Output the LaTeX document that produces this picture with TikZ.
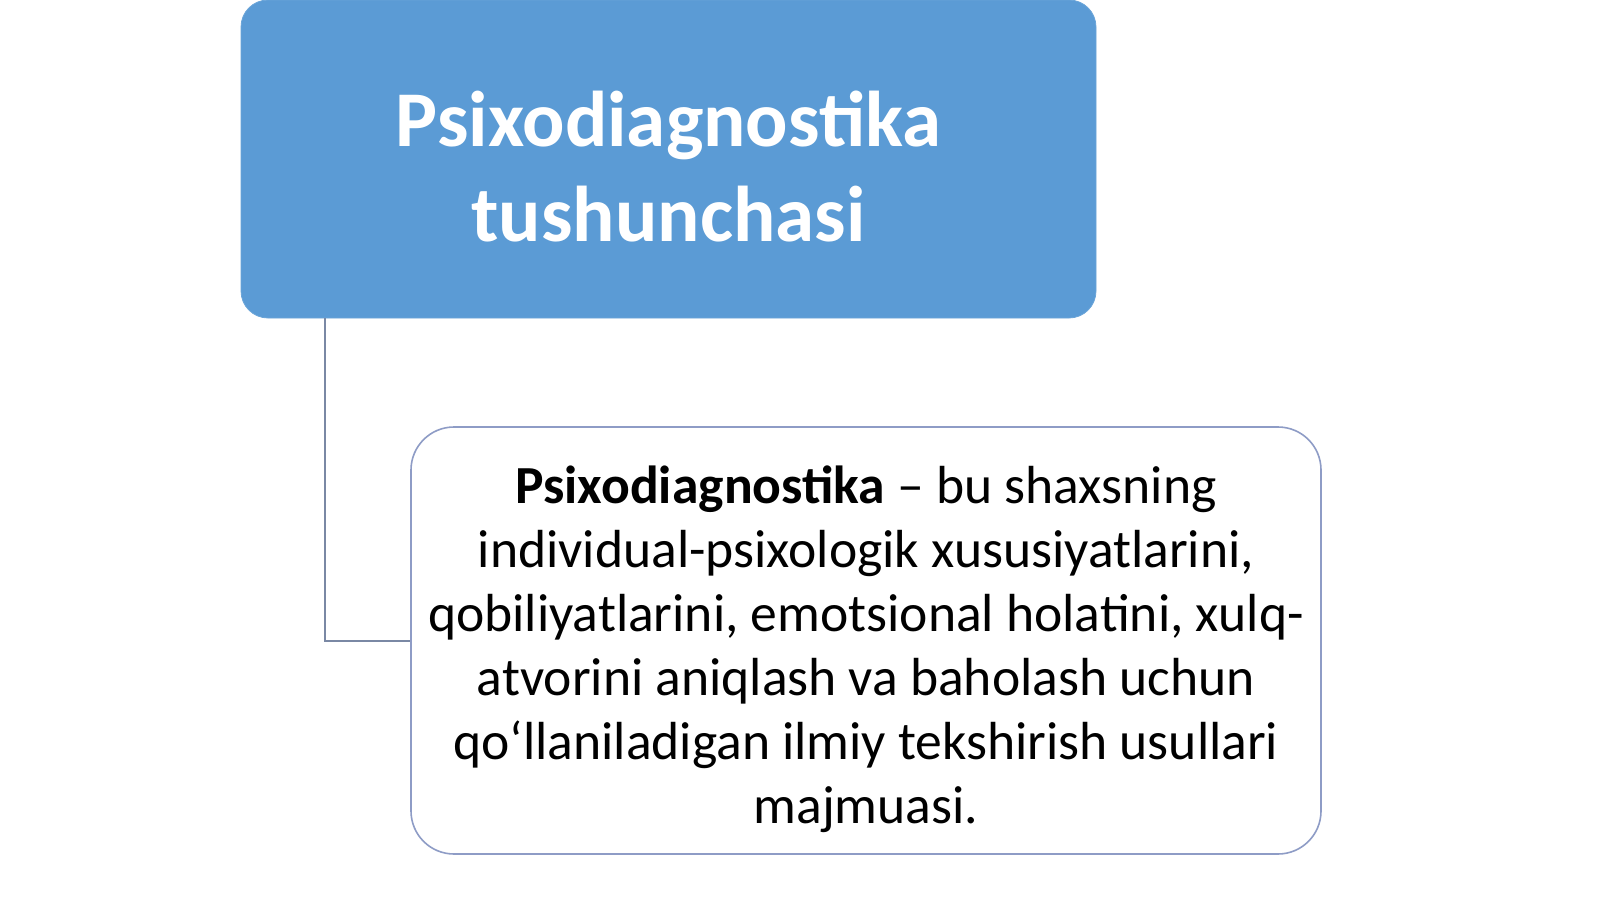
\documentclass[tikz,border=0pt]{standalone}
\usepackage{fontspec}
\setmainfont{Carlito}
\usetikzlibrary{positioning}
\definecolor{titleblue}{HTML}{5B9BD5}
\definecolor{boxline}{HTML}{8E9CC6}
\definecolor{linkgray}{HTML}{7A88A4}

\begin{document}
\begin{tikzpicture}
    [x=0.5pt,y=-0.5pt,
        titlebox/.style={rectangle,rounded corners=13.5pt,fill=titleblue,draw=titleblue!90!white,
            text=white,align=center,inner sep=0pt,minimum width=427.5pt,minimum height=159pt,
            font=\fontsize{39.5}{47.5}\selectfont\bfseries},
        defbox/.style={rectangle,rounded corners=21.5pt,fill=white,draw=boxline,line width=0.8pt,
            align=center,inner sep=0pt,minimum width=455pt,minimum height=213.5pt,
            font=\fontsize{26.8}{32}\selectfont},
        link/.style={draw=linkgray,line width=1pt},
    ]
\useasboundingbox[fill=white] (0,0) rectangle (1600,899);

\node[titlebox] (title) at (668.5,159) {\rule{0pt}{35.5pt}Psixodiagnostika\\tushunchasi};
\node[defbox] (defn) at (866,640.5) {\rule{0pt}{28pt}\textbf{Psixodiagnostika} – bu shaxsning\\
    individual-psixologik xususiyatlarini,\\
    qobiliyatlarini, emotsional holatini, xulq-\\
    atvorini aniqlash va baholash uchun\\
    qo‘llaniladigan ilmiy tekshirish usullari\\
    majmuasi.};

\draw[link] ([xshift=42pt]title.south west) |- (defn.west);
\end{tikzpicture}
\end{document}
